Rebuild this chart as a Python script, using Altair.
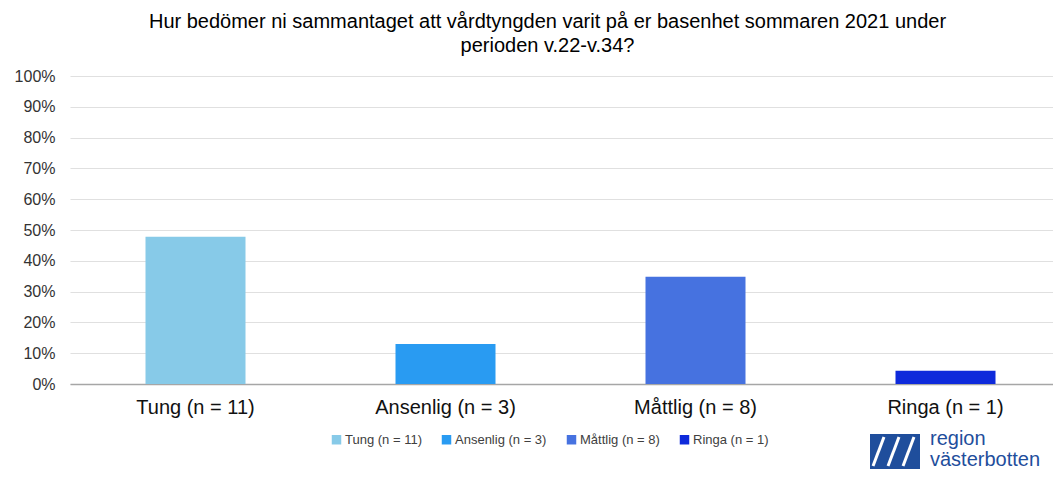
import altair as alt
import pandas as pd

categories = ["Tung (n = 11)", "Ansenlig (n = 3)", "Måttlig (n = 8)", "Ringa (n = 1)"]
shares = [0.478, 0.130, 0.348, 0.043]
colors = ["#87CAE8", "#299BF2", "#4672E0", "#0E2ADB"]
y_ticks = [0, 0.1, 0.2, 0.3, 0.4, 0.5, 0.6, 0.7, 0.8, 0.9, 1.0]

df = pd.DataFrame({"kategori": categories, "andel": shares})
FONT = "Liberation Sans"

bars = alt.Chart(df).mark_bar(size=100).encode(
    x=alt.X("kategori:N", sort=categories, title=None,
            scale=alt.Scale(paddingInner=0.6, paddingOuter=0.302, range=[0, 1001]),
            axis=alt.Axis(labelAngle=0, labelFontSize=20, labelFont=FONT, labelColor="#111111",
                          labelPadding=13, ticks=False, domainColor="#A6A6A6", domainWidth=1.5,
                          grid=False)),
    y=alt.Y("andel:Q", title=None,
            scale=alt.Scale(domain=[0, 1]),
            axis=alt.Axis(values=y_ticks, format=".0%", labelFontSize=16, labelFont=FONT,
                          labelColor="#333333", labelPadding=15, ticks=False, domain=False,
                          gridColor="#E0E0E0", gridWidth=1.2)),
    color=alt.Color("kategori:N", sort=categories,
                    scale=alt.Scale(domain=categories, range=colors),
                    legend=alt.Legend(title=None, orient="none", direction="horizontal",
                                      legendX=260, legendY=357, symbolType="square",
                                      symbolSize=90, symbolStrokeWidth=0, labelFontSize=13,
                                      labelFont=FONT, labelColor="#404040", columnPadding=18,
                                      labelOffset=2)),
)

logo_df = pd.DataFrame({"a": [1]})
logo_box = alt.Chart(logo_df).mark_rect(color="#1F4E9C").encode(
    x=alt.value(800), x2=alt.value(850), y=alt.value(358), y2=alt.value(393)
)
stripes = alt.layer(*[
    alt.Chart(logo_df).mark_rule(color="white", strokeWidth=3).encode(
        x=alt.value(xa), x2=alt.value(xb), y=alt.value(361), y2=alt.value(390)
    )
    for xa, xb in [(814, 803), (829, 818), (844, 833)]
])
logo_t1 = alt.Chart(logo_df).mark_text(text="region", align="left", baseline="alphabetic",
                                       fontSize=20, font=FONT, color="#1F4E9C").encode(
    x=alt.value(860), y=alt.value(369)
)
logo_t2 = alt.Chart(logo_df).mark_text(text="västerbotten", align="left", baseline="alphabetic",
                                       fontSize=20, font=FONT, color="#1F4E9C").encode(
    x=alt.value(860), y=alt.value(390)
)

chart = alt.layer(bars, logo_box, stripes, logo_t1, logo_t2).properties(
    width=983, height=308,
    padding={"left": 62, "top": 68, "right": 0, "bottom": 93},
    autosize=alt.AutoSizeParams(type="none"),
    title=alt.TitleParams(
        text=["Hur bedömer ni sammantaget att vårdtyngden varit på er basenhet sommaren 2021 under",
              "perioden v.22-v.34?"],
        fontSize=20, font=FONT, fontWeight="normal", color="#000000",
        anchor="middle", offset=12, lineHeight=24, dx=-14,
    ),
).configure_view(stroke=None)

chart.save("out.html", embed_options={"renderer": "svg", "actions": False})
